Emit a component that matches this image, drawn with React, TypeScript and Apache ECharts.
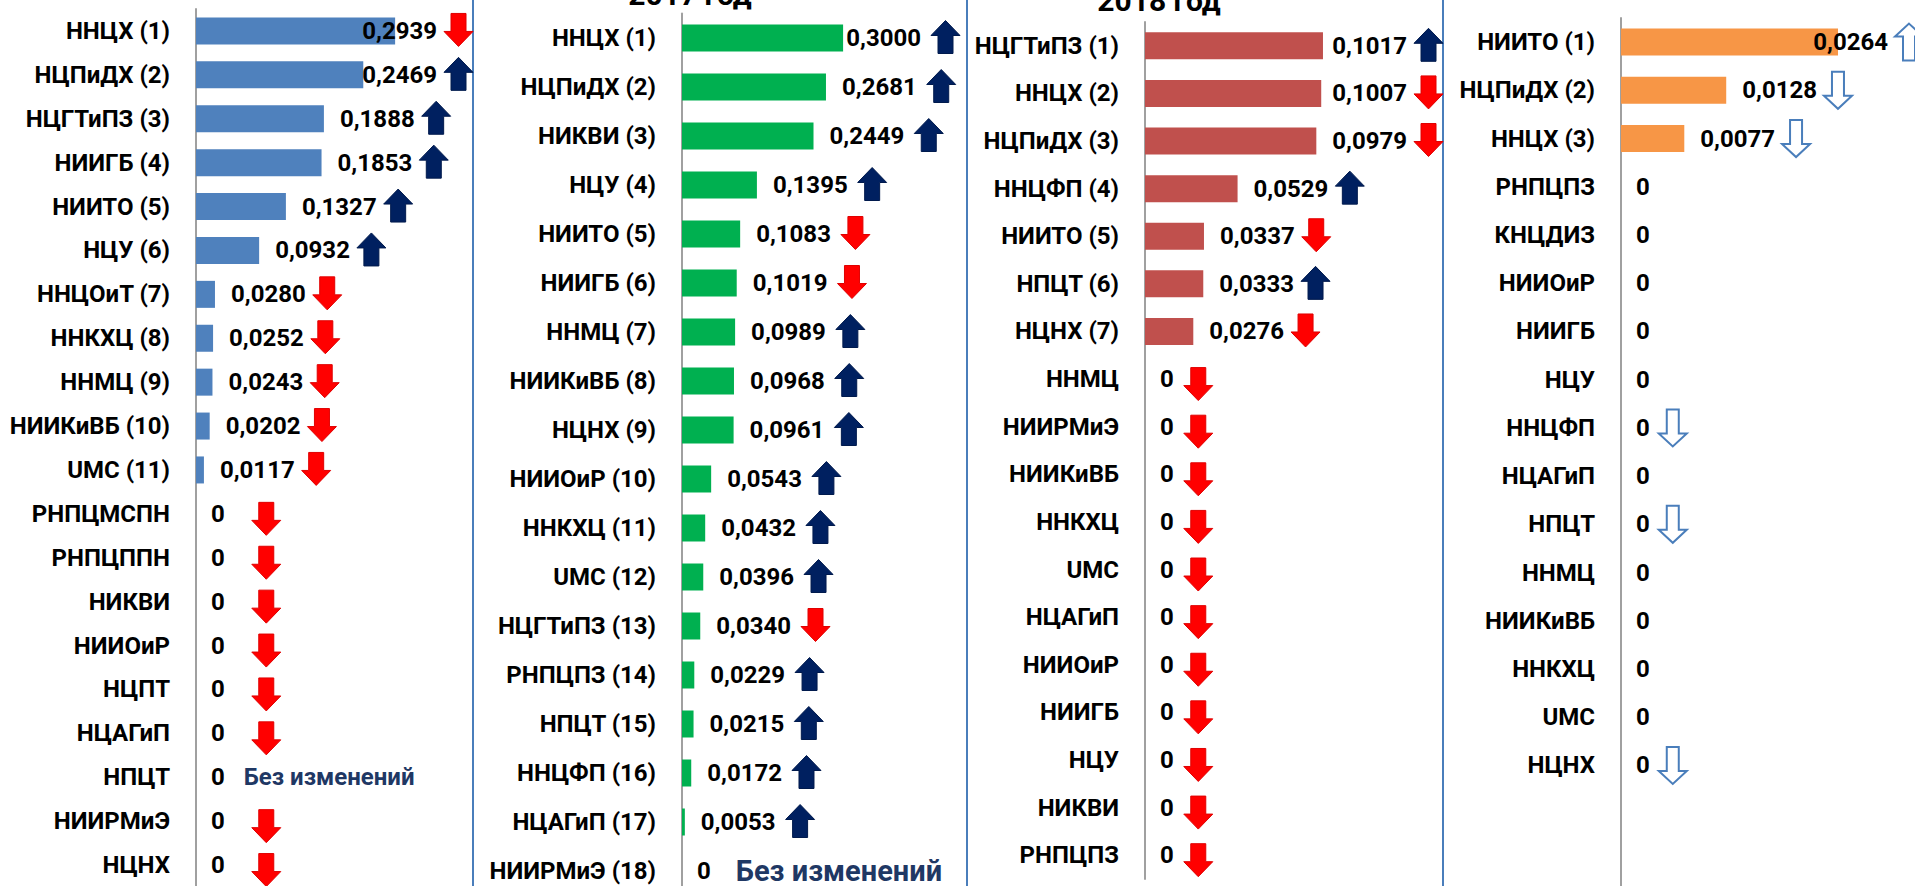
import React, { useEffect, useRef } from "react";
import * as echarts from "echarts";

const FONT = 'Roboto, "Noto Sans", sans-serif';

// ---------- DATA ----------
const cats1 = ["ННЦХ (1)", "НЦПиДХ (2)", "НЦГТиПЗ (3)", "НИИГБ (4)", "НИИТО (5)", "НЦУ (6)", "ННЦОиТ (7)", "ННКХЦ (8)", "ННМЦ (9)", "НИИКиВБ (10)", "UMC (11)", "РНПЦМСПН", "РНПЦППН", "НИКВИ", "НИИОиР", "НЦПТ", "НЦАГиП", "НПЦТ", "НИИРМиЭ", "НЦНХ"];
const vals1 = [0.2939, 0.2469, 0.1888, 0.1853, 0.1327, 0.0932, 0.028, 0.0252, 0.0243, 0.0202, 0.0117, 0, 0, 0, 0, 0, 0, 0, 0, 0];
const trend1 = ["down", "up", "up", "up", "up", "up", "down", "down", "down", "down", "down", "down", "down", "down", "down", "down", "down", "same", "down", "down"];

const title2 = "2017 год";
const cats2 = ["ННЦХ (1)", "НЦПиДХ (2)", "НИКВИ (3)", "НЦУ (4)", "НИИТО (5)", "НИИГБ (6)", "ННМЦ (7)", "НИИКиВБ (8)", "НЦНХ (9)", "НИИОиР (10)", "ННКХЦ (11)", "UMC (12)", "НЦГТиПЗ (13)", "РНПЦПЗ (14)", "НПЦТ (15)", "ННЦФП (16)", "НЦАГиП (17)", "НИИРМиЭ (18)"];
const vals2 = [0.3, 0.2681, 0.2449, 0.1395, 0.1083, 0.1019, 0.0989, 0.0968, 0.0961, 0.0543, 0.0432, 0.0396, 0.034, 0.0229, 0.0215, 0.0172, 0.0053, 0];
const trend2 = ["up", "up", "up", "up", "down", "down", "up", "up", "up", "up", "up", "up", "down", "up", "up", "up", "up", "same"];

const title3 = "2018 год";
const cats3 = ["НЦГТиПЗ (1)", "ННЦХ (2)", "НЦПиДХ (3)", "ННЦФП (4)", "НИИТО (5)", "НПЦТ (6)", "НЦНХ (7)", "ННМЦ", "НИИРМиЭ", "НИИКиВБ", "ННКХЦ", "UMC", "НЦАГиП", "НИИОиР", "НИИГБ", "НЦУ", "НИКВИ", "РНПЦПЗ"];
const vals3 = [0.1017, 0.1007, 0.0979, 0.0529, 0.0337, 0.0333, 0.0276, 0, 0, 0, 0, 0, 0, 0, 0, 0, 0, 0];
const trend3 = ["up", "down", "down", "up", "down", "up", "down", "down", "down", "down", "down", "down", "down", "down", "down", "down", "down", "down"];

const cats4 = ["НИИТО (1)", "НЦПиДХ (2)", "ННЦХ (3)", "РНПЦПЗ", "КНЦДИЗ", "НИИОиР", "НИИГБ", "НЦУ", "ННЦФП", "НЦАГиП", "НПЦТ", "ННМЦ", "НИИКиВБ", "ННКХЦ", "UMC", "НЦНХ"];
const vals4 = [0.0264, 0.0128, 0.0077, 0, 0, 0, 0, 0, 0, 0, 0, 0, 0, 0, 0, 0];
const trend4 = ["up", "down", "down", "none", "none", "none", "none", "none", "down", "none", "down", "none", "none", "none", "none", "down"];

const SAME_TEXT = "Без изменений";

// ---------- STYLE / LAYOUT ----------
const panels = [
  { cats: cats1, vals: vals1, trend: trend1, left: 196, top: 9, height: 878, width: 271, max: 0.4, color: "#4F81BD", right: 473, gap: 7, zeroGap: 27, sameGap: 19, sameSize: 24, outline: false },
  { cats: cats2, vals: vals2, trend: trend2, left: 682, top: 13.5, height: 882, width: 268.5, max: 0.5, color: "#00B050", right: 960, gap: 10, zeroGap: 25, sameGap: 25, sameSize: 29, outline: false },
  { cats: cats3, vals: vals3, trend: trend3, left: 1145, top: 22, height: 857, width: 262.5, max: 0.15, color: "#C0504D", right: 1443, gap: 7, zeroGap: 10, sameGap: 20, sameSize: 24, outline: false },
  { cats: cats4, vals: vals4, trend: trend4, left: 1621, top: 18, height: 868, width: 287.7, max: 0.035, color: "#F79646", right: 1923, gap: 7, zeroGap: 9, sameGap: 20, sameSize: 24, outline: true, slots: 18 },
];

const measureCtx = typeof document !== "undefined" ? document.createElement("canvas").getContext("2d") : null;
function tw(t: string, size: number): number {
  if (!measureCtx) return t.length * size * 0.55;
  measureCtx.font = `bold ${size}px ${FONT}`;
  return measureCtx.measureText(t).width;
}

function arrowPoints(ax: number, ay: number, W: number, H: number, S: number, Hh: number, up: boolean) {
  const l = ax + (W - S) / 2;
  const r = ax + (W + S) / 2;
  if (!up) {
    return [[l, ay], [r, ay], [r, ay + H - Hh], [ax + W, ay + H - Hh], [ax + W / 2, ay + H], [ax, ay + H - Hh], [l, ay + H - Hh]];
  }
  return [[ax + W / 2, ay], [ax + W, ay + Hh], [r, ay + Hh], [r, ay + H], [l, ay + H], [l, ay + Hh], [ax, ay + Hh]];
}

function makeRenderer(p: any) {
  return (params: any, api: any) => {
    const i = params.dataIndex;
    const v = p.vals[i];
    const pt = api.coord([v, i]);
    const cy = pt[1];
    const isZero = v === 0;
    const txt = isZero ? "0" : v.toFixed(4).replace(".", ",");
    const lw = tw(txt, 24);
    const t = p.trend[i];
    const hasArrow = t === "up" || t === "down";
    const gap = isZero ? p.zeroGap : p.gap;
    const W = p.outline ? 28 : 29;
    const H = p.outline ? 37 : 33;
    const S = p.outline ? 12 : 15;
    const Hh = p.outline ? 13 : 15;
    let lx = pt[0] + (isZero ? 15 : 16);
    if (hasArrow && !isZero) lx = Math.min(lx, p.right - W - gap - lw);
    const children: any[] = [
      {
        type: "text",
        x: lx,
        y: cy,
        style: { text: txt, font: `bold 24px ${FONT}`, fill: "#000", align: "left", verticalAlign: "middle" },
      },
    ];
    if (hasArrow) {
      const ax = lx + lw + gap;
      const dy = p.outline ? 0 : isZero ? 5 : -1;
      const ay = cy - H / 2 + dy;
      const up = t === "up";
      const fill = p.outline ? "#FFFFFF" : up ? "#002060" : "#FF0000";
      const stroke = p.outline ? "#4A7EBB" : up ? "#001A4D" : "#E00000";
      children.push({
        type: "polygon",
        shape: { points: arrowPoints(ax, ay, W, H, S, Hh, up) },
        style: { fill, stroke, lineWidth: p.outline ? 2 : 1 },
      });
    }
    if (t === "same") {
      children.push({
        type: "text",
        x: lx + lw + p.sameGap,
        y: cy,
        style: { text: SAME_TEXT, font: `bold ${p.sameSize}px ${FONT}`, fill: "#1F3864", align: "left", verticalAlign: "middle" },
      });
    }
    return { type: "group", children };
  };
}

export default function App() {
  const ref = useRef<HTMLDivElement>(null);
  useEffect(() => {
    if (!ref.current) return;
    const chart = echarts.init(ref.current, null, { renderer: "svg" });
    const grid: any[] = [];
    const xAxis: any[] = [];
    const yAxis: any[] = [];
    const series: any[] = [];
    panels.forEach((p, k) => {
      grid.push({ left: p.left, top: p.top, width: p.width, height: p.height, containLabel: false, outerBoundsMode: "none" });
      xAxis.push({ type: "value", gridIndex: k, min: 0, max: p.max, show: false, splitLine: { show: false } });
      yAxis.push({
        type: "category",
        gridIndex: k,
        inverse: true,
        data: p.cats,
        max: p.slots ? p.slots - 1 : undefined,
        axisLine: { show: true, lineStyle: { color: "#A0A0A0", width: 2 } },
        axisTick: { show: false },
        splitLine: { show: false },
        axisLabel: { margin: 26, color: "#000", fontFamily: FONT, fontWeight: "bold", fontSize: 24, interval: 0 },
      });
      series.push({
        type: "bar",
        xAxisIndex: k,
        yAxisIndex: k,
        data: p.vals,
        barWidth: 27,
        silent: true,
        itemStyle: { color: p.color },
      });
      series.push({
        type: "custom",
        xAxisIndex: k,
        yAxisIndex: k,
        data: p.vals.map((v, i) => [v, i]),
        encode: { x: 0, y: 1 },
        renderItem: makeRenderer(p),
        clip: false,
        silent: true,
        z: 10,
      });
    });
    const borders = [473, 967, 1443].map((x) => ({
      type: "line",
      shape: { x1: x, y1: 0, x2: x, y2: 886 },
      style: { stroke: "#4A7EBB", lineWidth: 2 },
      silent: true,
    }));
    chart.setOption({
      animation: false,
      backgroundColor: "#FFFFFF",
      grid,
      xAxis,
      yAxis,
      series,
      graphic: [
        ...borders,
        { type: "text", x: 690, y: -6, style: { text: title2, font: `bold 30px ${FONT}`, fill: "#000", align: "center", verticalAlign: "middle" } },
        { type: "text", x: 1159, y: 0.7, style: { text: title3, font: `bold 30px ${FONT}`, fill: "#000", align: "center", verticalAlign: "middle" } },
      ],
    });
    return () => chart.dispose();
  }, []);
  return <div ref={ref} style={{ position: "fixed", left: 0, top: 0, width: 1915, height: 886 }} />;
}
